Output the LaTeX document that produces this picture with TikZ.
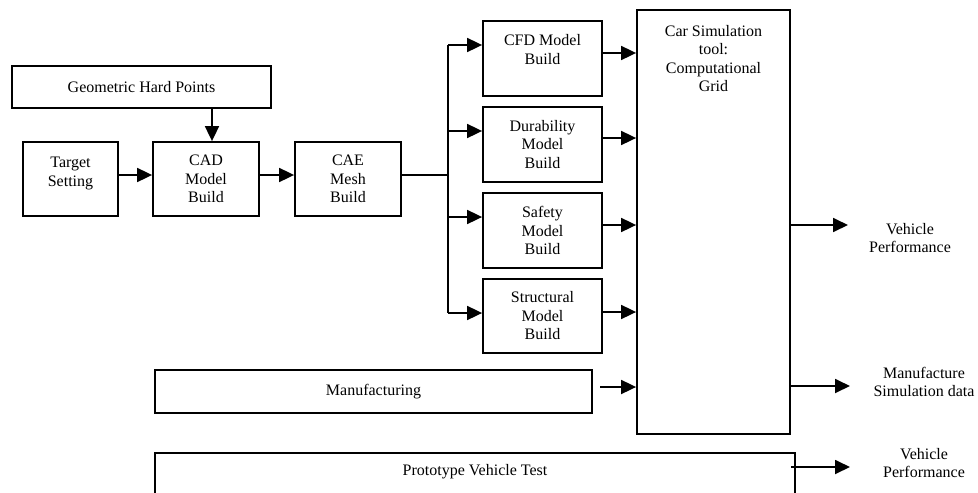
\documentclass[tikz,border=0pt]{standalone}
\usepackage{fontspec}
\setmainfont{Liberation Serif}
\usetikzlibrary{arrows.meta}
\tikzset{
  box/.style={draw, line width=1.8pt, inner sep=0pt, align=center, font=\fontsize{16}{18.5}\selectfont},
  txt/.style={inner sep=0pt, align=center, font=\fontsize{16}{18.5}\selectfont},
  conn/.style={line width=1.8pt},
  arr/.style={line width=1.8pt, -{Triangle[length=15pt,width=14pt]}},
}
\begin{document}
\begin{tikzpicture}[x=1pt,y=-1pt]
\useasboundingbox (0,0) rectangle (978,493);
% boxes
\node[box, minimum width=259, minimum height=42] (geo) at (141.5,87) {Geometric Hard Points};
\node[box, minimum width=95, minimum height=74] (target) at (70.5,179) {Target\\Setting\\[-4pt]\mbox{}};
\node[box, minimum width=106, minimum height=74] (cad) at (206,179) {CAD\\Model\\Build};
\node[box, minimum width=106, minimum height=74] (cae) at (348,179) {CAE\\Mesh\\Build};
\node[box, minimum width=119, minimum height=75] (cfd) at (542.5,58.5) {CFD Model\\Build\\\mbox{}};
\node[box, minimum width=119, minimum height=75] (dur) at (542.5,144.5) {Durability\\Model\\Build};
\node[box, minimum width=119, minimum height=75] (saf) at (542.5,230.5) {Safety\\Model\\Build};
\node[box, minimum width=119, minimum height=74] (str) at (542.5,316) {Structural\\Model\\Build};
\node[box, minimum width=153, minimum height=424] (car) at (713.5,222) {};
\node[txt, anchor=north] (cartext) at (713.5,25) {Car Simulation\\tool:\\Computational\\Grid};
\node[box, minimum width=437, minimum height=43] (manuf) at (373.5,391.5) {Manufacturing};
\node[box, minimum width=640, minimum height=50, anchor=north] (proto) at (475,452) {};
\node[txt] (prototext) at (475,472) {Prototype Vehicle Test};
% output labels
\node[txt] (out1) at (910,238) {Vehicle\\Performance};
\node[txt] (out2) at (924,382) {Manufacture\\Simulation data};
\node[txt] (out3) at (924,463) {Vehicle\\Performance};
% coordinates
\coordinate (g) at (212,108);
\coordinate (busT) at (448,45);
\coordinate (busM) at (448,175);
\coordinate (b2) at (448,131);
\coordinate (b3) at (448,217);
\coordinate (busB) at (448,313);
\coordinate (c1) at (602,53);
\coordinate (c2) at (602,138);
\coordinate (c3) at (602,225);
\coordinate (c4) at (602,312);
\coordinate (m) at (600,387);
\coordinate (o1) at (848,225);
\coordinate (o2) at (850,386);
\coordinate (p) at (791,467);
\coordinate (o3) at (850,467);
% connectors
\draw[arr] (g) -- (g |- cad.north);
\draw[arr] (target.east |- busM) -- (cad.west |- busM);
\draw[arr] (cad.east |- busM) -- (cae.west |- busM);
\draw[conn] (cae.east |- busM) -- (busM);
\draw[conn] (busT) -- (busB);
\draw[arr] (busT) -- (busT -| cfd.west);
\draw[arr] (b2) -- (b2 -| dur.west);
\draw[arr] (b3) -- (b3 -| saf.west);
\draw[arr] (busB) -- (busB -| str.west);
\draw[arr] (c1) -- (c1 -| car.west);
\draw[arr] (c2) -- (c2 -| car.west);
\draw[arr] (c3) -- (c3 -| car.west);
\draw[arr] (c4) -- (c4 -| car.west);
\draw[arr] (m) -- (m -| car.west);
\draw[arr] (car.east |- o1) -- (o1);
\draw[arr] (car.east |- o2) -- (o2);
\draw[arr] (p) -- (o3);
\end{tikzpicture}
\end{document}
